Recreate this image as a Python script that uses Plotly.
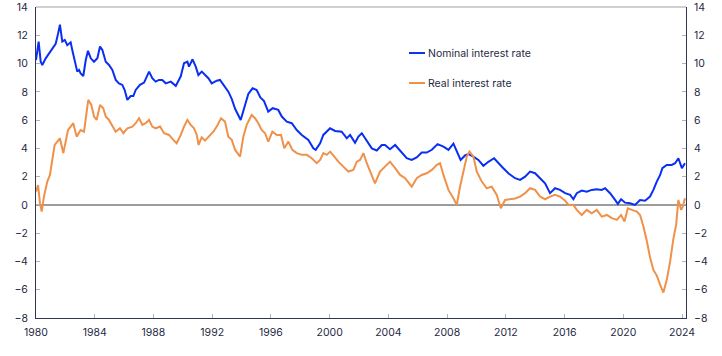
import plotly.graph_objects as go

# ---- data (decimal years) ----
nominal_years = [1980.0, 1980.18, 1980.32, 1980.43, 1980.66, 1981.0, 1981.23, 1981.34, 1981.5, 1981.63,
    1981.79, 1981.96, 1982.13, 1982.36, 1982.47, 1982.7, 1982.81, 1982.93, 1983.04, 1983.22,
    1983.39, 1983.54, 1983.73, 1983.95, 1984.18, 1984.36, 1984.52, 1984.75, 1984.97, 1985.2,
    1985.43, 1985.65, 1985.88, 1986.04, 1986.22, 1986.45, 1986.63, 1986.79, 1987.08, 1987.36,
    1987.7, 1987.92, 1988.15, 1988.38, 1988.6, 1988.84, 1989.18, 1989.52, 1989.86, 1990.08,
    1990.31, 1990.42, 1990.66, 1990.88, 1991.06, 1991.29, 1991.74, 1991.97, 1992.31, 1992.53,
    1992.76, 1993.1, 1993.33, 1993.56, 1993.94, 1994.24, 1994.46, 1994.75, 1995.03, 1995.28,
    1995.53, 1995.82, 1996.12, 1996.5, 1996.74, 1997.08, 1997.42, 1997.76, 1998.1, 1998.55,
    1998.89, 1999.05, 1999.35, 1999.57, 2000.03, 2000.37, 2000.82, 2001.17, 2001.39, 2001.73,
    2001.96, 2002.19, 2002.53, 2002.87, 2003.21, 2003.55, 2003.77, 2004.11, 2004.46, 2004.91,
    2005.25, 2005.59, 2005.93, 2006.27, 2006.61, 2006.96, 2007.35, 2007.75, 2008.09, 2008.43,
    2008.66, 2008.92, 2009.22, 2009.45, 2009.79, 2010.13, 2010.47, 2010.81, 2011.2, 2011.49,
    2011.78, 2012.17, 2012.63, 2012.97, 2013.31, 2013.65, 2013.99, 2014.33, 2014.67, 2015.01,
    2015.35, 2015.69, 2016.04, 2016.38, 2016.6, 2016.83, 2017.17, 2017.51, 2017.85, 2018.19,
    2018.53, 2018.76, 2019.1, 2019.44, 2019.63, 2019.85, 2020.12, 2020.46, 2020.8, 2021.14,
    2021.48, 2021.82, 2022.05, 2022.28, 2022.51, 2022.66, 2022.96, 2023.3, 2023.53, 2023.75,
    2023.99, 2024.2]
nominal_rate = [10.25, 11.55, 10.13, 9.9, 10.37, 10.85, 11.2, 11.4, 12.1, 12.75,
    11.55, 11.67, 11.3, 11.5, 10.96, 9.78, 9.43, 9.55, 9.3, 9.12,
    10.25, 10.9, 10.37, 10.13, 10.37, 11.2, 10.96, 10.13, 9.9, 9.55,
    8.84, 8.6, 8.49, 8.13, 7.43, 7.7, 7.7, 8.13, 8.49, 8.65,
    9.43, 8.96, 8.72, 8.84, 8.84, 8.6, 8.72, 8.42, 9.1, 10.02,
    10.13, 9.78, 10.3, 9.78, 9.19, 9.43, 8.96, 8.6, 8.79, 8.84,
    8.49, 8.01, 7.5, 6.8, 6.01, 7.1, 7.85, 8.25, 8.13, 7.6,
    7.35, 6.6, 6.84, 6.72, 6.25, 5.89, 5.78, 5.3, 4.95, 4.6,
    4.01, 3.89, 4.36, 4.95, 5.42, 5.23, 5.18, 4.71, 4.95, 4.4,
    4.83, 5.07, 4.5, 4.0, 3.85, 4.24, 4.24, 3.94, 4.24, 3.7,
    3.3, 3.18, 3.36, 3.7, 3.7, 3.9, 4.3, 4.12, 3.89, 4.33,
    3.8, 3.18, 3.5, 3.6, 3.42, 3.18, 2.77, 3.05, 3.3, 2.95,
    2.65, 2.24, 1.89, 1.77, 2.0, 2.36, 2.24, 1.89, 1.53, 0.83,
    1.18, 1.06, 0.83, 0.71, 0.4, 0.83, 1.01, 0.94, 1.06, 1.11,
    1.06, 1.18, 0.83, 0.35, 0.07, 0.4, 0.16, 0.12, 0.0, 0.35,
    0.3, 0.59, 1.06, 1.65, 2.12, 2.6, 2.83, 2.83, 2.95, 3.3,
    2.6, 2.95]

real_years = [1980.0, 1980.14, 1980.27, 1980.39, 1980.54, 1980.77, 1980.95, 1981.11, 1981.27, 1981.45,
    1981.63, 1981.86, 1982.02, 1982.18, 1982.36, 1982.54, 1982.77, 1983.04, 1983.27, 1983.45,
    1983.56, 1983.77, 1983.95, 1984.13, 1984.36, 1984.58, 1984.75, 1984.97, 1985.2, 1985.43,
    1985.72, 1985.95, 1986.22, 1986.56, 1986.79, 1987.02, 1987.24, 1987.47, 1987.7, 1987.92,
    1988.15, 1988.45, 1988.72, 1989.06, 1989.35, 1989.58, 1989.86, 1990.08, 1990.31, 1990.54,
    1990.76, 1990.95, 1991.07, 1991.29, 1991.51, 1991.85, 1992.08, 1992.31, 1992.6, 1992.87,
    1993.1, 1993.33, 1993.56, 1993.9, 1994.12, 1994.35, 1994.69, 1994.92, 1995.14, 1995.37,
    1995.6, 1995.82, 1996.1, 1996.4, 1996.69, 1996.91, 1997.19, 1997.46, 1997.76, 1998.1,
    1998.44, 1998.78, 1999.12, 1999.35, 1999.57, 1999.8, 2000.03, 2000.32, 2000.59, 2000.93,
    2001.27, 2001.61, 2001.85, 2002.07, 2002.3, 2002.53, 2002.87, 2003.09, 2003.43, 2003.77,
    2004.11, 2004.46, 2004.8, 2005.14, 2005.59, 2005.93, 2006.27, 2006.61, 2006.96, 2007.3,
    2007.52, 2007.75, 2008.09, 2008.43, 2008.66, 2008.88, 2009.11, 2009.34, 2009.52, 2009.79,
    2010.02, 2010.36, 2010.7, 2011.04, 2011.38, 2011.66, 2011.95, 2012.29, 2012.63, 2012.97,
    2013.31, 2013.65, 2013.99, 2014.33, 2014.67, 2015.01, 2015.35, 2015.69, 2016.04, 2016.26,
    2016.6, 2016.83, 2017.17, 2017.51, 2017.85, 2018.19, 2018.53, 2018.88, 2019.22, 2019.56,
    2019.85, 2020.08, 2020.31, 2020.58, 2020.92, 2021.14, 2021.37, 2021.6, 2021.82, 2022.05,
    2022.28, 2022.51, 2022.73, 2022.96, 2023.19, 2023.41, 2023.6, 2023.75, 2023.94, 2024.05,
    2024.2]
real_rate = [0.94, 1.41, 0.12, -0.47, 0.59, 1.65, 2.12, 3.18, 4.24, 4.48,
    4.71, 3.66, 4.48, 5.3, 5.54, 5.78, 4.83, 5.3, 5.18, 6.72,
    7.43, 7.07, 6.25, 6.01, 7.07, 6.84, 6.25, 6.01, 5.54, 5.18,
    5.42, 5.07, 5.42, 5.54, 5.78, 6.13, 5.66, 5.78, 6.01, 5.54,
    5.42, 5.54, 5.07, 4.95, 4.6, 4.36, 4.95, 5.54, 6.01, 5.66,
    5.42, 4.95, 4.24, 4.78, 4.55, 4.95, 5.18, 5.54, 6.13, 5.89,
    4.83, 4.6, 3.89, 3.42, 4.83, 5.66, 6.36, 6.13, 5.78, 5.3,
    5.07, 4.48, 5.18, 4.95, 4.95, 4.01, 4.48, 3.89, 3.66, 3.54,
    3.54, 3.3, 2.95, 3.18, 3.66, 3.54, 3.77, 3.42, 3.06, 2.71,
    2.36, 2.48, 3.06, 3.18, 3.66, 2.95, 2.12, 1.53, 2.36, 2.71,
    3.06, 2.6, 2.12, 1.89, 1.29, 1.89, 2.12, 2.24, 2.48, 2.83,
    2.95, 2.12, 1.06, 0.47, 0.0, 1.29, 2.36, 3.42, 3.77, 3.42,
    2.36, 1.65, 1.18, 1.29, 0.71, -0.24, 0.35, 0.4, 0.45, 0.59,
    0.83, 1.18, 1.06, 0.59, 0.4, 0.59, 0.71, 0.59, 0.3, 0.0,
    0.0, -0.35, -0.71, -0.35, -0.59, -0.35, -0.83, -0.71, -0.94, -1.06,
    -0.71, -1.18, -0.24, -0.35, -0.47, -0.71, -1.53, -2.55, -3.7, -4.6,
    -5.0, -5.65, -6.2, -5.3, -4.0, -2.4, -1.4, 0.35, -0.35, -0.12,
    0.47]

x_ticks = [1980, 1984, 1988, 1992, 1996, 2000, 2004, 2008, 2012, 2016, 2020, 2024]
y_ticks = [-8, -6, -4, -2, 0, 2, 4, 6, 8, 10, 12, 14]

BLUE = "#0a2ff2"
ORANGE = "#f0914a"
TEXT = "#1f2a44"
AXIS = "#2e3752"
TICK = "#b0b3ba"
FONT = "Inter"

fig = go.Figure()
fig.add_trace(go.Scatter(x=nominal_years, y=nominal_rate, mode="lines",
                         line=dict(color=BLUE, width=2), name="Nominal interest rate",
                         yaxis="y"))
fig.add_trace(go.Scatter(x=real_years, y=real_rate, mode="lines",
                         line=dict(color=ORANGE, width=2), name="Real interest rate",
                         yaxis="y2"))

common_y = dict(range=[-8, 14], tickvals=y_ticks, ticks="inside", ticklen=4,
                tickcolor=TICK, showgrid=False, showline=True, linecolor=AXIS,
                linewidth=1, automargin=False, ticklabelstandoff=5,
                tickfont=dict(family=FONT, size=10.5, color=TEXT))

fig.update_layout(
    width=722, height=356,
    margin=dict(l=36, r=36, t=7, b=38, autoexpand=False),
    paper_bgcolor="white", plot_bgcolor="white",
    showlegend=False,
    font=dict(family=FONT, size=10.5, color=TEXT),
    xaxis=dict(range=[1980, 2024.27], tickvals=x_ticks, ticks="inside", ticklen=4,
               tickcolor=TICK, showgrid=False, showline=True, linecolor=AXIS,
               linewidth=1, zeroline=False, automargin=False, ticklabelstandoff=4,
               tickfont=dict(family=FONT, size=10.5, color=TEXT)),
    yaxis=dict(**common_y, side="left", zeroline=True, zerolinecolor="#9c9c9c",
               zerolinewidth=2),
    yaxis2=dict(**common_y, side="right", overlaying="y", zeroline=False),
    shapes=[
        dict(type="line", xref="paper", yref="paper", x0=0, x1=1, y0=1, y1=1,
             line=dict(color="#a0a0a0", width=1)),
        dict(type="line", xref="paper", yref="paper", x0=0.5738, x1=0.5985,
             y0=0.852, y1=0.852, line=dict(color=BLUE, width=2)),
        dict(type="line", xref="paper", yref="paper", x0=0.5738, x1=0.5985,
             y0=0.7556, y1=0.7556, line=dict(color=ORANGE, width=2)),
    ],
    annotations=[
        dict(text="Nominal interest rate", xref="paper", yref="paper", x=0.6, y=0.852,
             xanchor="left", yanchor="middle", showarrow=False,
             font=dict(family=FONT, size=10.5, color=TEXT)),
        dict(text="Real interest rate", xref="paper", yref="paper", x=0.6, y=0.7556,
             xanchor="left", yanchor="middle", showarrow=False,
             font=dict(family=FONT, size=10.5, color=TEXT)),
    ],
)

fig.write_html("out.html", config={"displayModeBar": False},
               post_script="document.body.style.margin='0';document.body.style.overflow='hidden';")
